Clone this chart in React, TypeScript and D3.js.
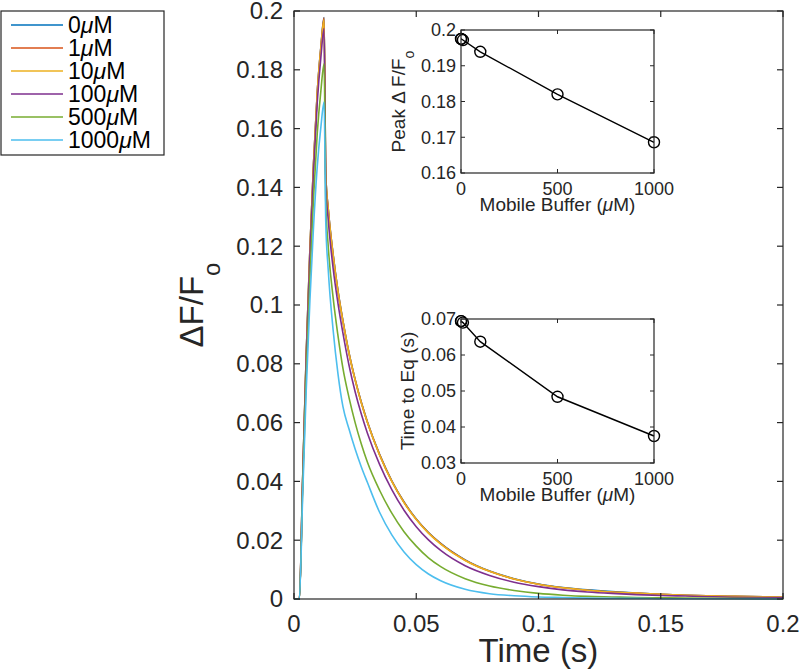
import React from "react";
import * as d3 from "d3";

// ---------- data ----------
const TIME = [0, 0.0022, 0.0035, 0.005, 0.0065, 0.008, 0.0095, 0.011, 0.0123, 0.013, 0.014, 0.016, 0.018, 0.02, 0.0225, 0.025, 0.0275, 0.03, 0.035, 0.04, 0.045, 0.05, 0.055, 0.06, 0.07, 0.08, 0.09, 0.1, 0.11, 0.12, 0.13, 0.14, 0.15, 0.16, 0.18, 0.2];

const S0 = [0, 0, 0.0396, 0.0832, 0.1188, 0.1484, 0.1722, 0.1878, 0.1978, 0.1442, 0.1328, 0.1172, 0.1047, 0.0947, 0.0837, 0.0747, 0.067, 0.0603, 0.0492, 0.0402, 0.033, 0.0272, 0.0226, 0.0189, 0.0133, 0.0095, 0.0069, 0.0051, 0.0039, 0.0031, 0.0025, 0.002, 0.0016, 0.0013, 0.0009, 0.0006];
const S1 = [0, 0, 0.0396, 0.0831, 0.1187, 0.1483, 0.1721, 0.1877, 0.1977, 0.1441, 0.1327, 0.1171, 0.1046, 0.0946, 0.0836, 0.0746, 0.0669, 0.0602, 0.0491, 0.0401, 0.0329, 0.0271, 0.0225, 0.0188, 0.0132, 0.0094, 0.0068, 0.005, 0.0038, 0.003, 0.0024, 0.002, 0.0016, 0.0013, 0.0009, 0.0006];
const S10 = [0, 0, 0.0395, 0.083, 0.1185, 0.148, 0.172, 0.1875, 0.197, 0.144, 0.1325, 0.117, 0.1045, 0.0945, 0.0835, 0.0745, 0.0668, 0.0601, 0.049, 0.04, 0.0328, 0.027, 0.0224, 0.0187, 0.0131, 0.0094, 0.0068, 0.005, 0.0038, 0.003, 0.0024, 0.002, 0.0016, 0.0013, 0.0009, 0.0006];
const S100 = [0, 0, 0.0388, 0.0815, 0.1164, 0.1455, 0.1688, 0.1843, 0.194, 0.141, 0.129, 0.1125, 0.1005, 0.0905, 0.0795, 0.0705, 0.063, 0.0565, 0.0458, 0.0372, 0.0302, 0.0246, 0.0201, 0.0165, 0.0113, 0.008, 0.0057, 0.0042, 0.0031, 0.0024, 0.0019, 0.0015, 0.0012, 0.001, 0.0006, 0.0004];
const S500 = [0, 0, 0.0364, 0.0764, 0.1092, 0.1365, 0.1583, 0.1729, 0.182, 0.135, 0.12, 0.1025, 0.0895, 0.0785, 0.0685, 0.06, 0.0528, 0.0466, 0.037, 0.0292, 0.0229, 0.018, 0.014, 0.011, 0.0069, 0.0044, 0.0029, 0.0019, 0.0013, 0.0009, 0.0007, 0.0005, 0.0004, 0.0003, 0.0002, 0.0001];
const S1000 = [0, 0, 0.0338, 0.071, 0.1014, 0.1268, 0.147, 0.1606, 0.169, 0.128, 0.112, 0.0915, 0.0765, 0.0655, 0.0578, 0.051, 0.045, 0.0397, 0.0295, 0.0218, 0.016, 0.0117, 0.0085, 0.0062, 0.0033, 0.0018, 0.0011, 0.0007, 0.0005, 0.0003, 0.0002, 0.0002, 0.0001, 0.0001, 0.0001, 0];

const SERIES_LABELS = ["0", "1", "10", "100", "500", "1000"];
const SERIES_VALUES = [S0, S1, S10, S100, S500, S1000];
const SERIES_COLORS = ["#0072BD", "#D95319", "#EDB120", "#7E2F8E", "#77AC30", "#4DBEEE"];

const X_TICKS = [0, 0.05, 0.1, 0.15, 0.2];
const Y_TICKS = [0, 0.02, 0.04, 0.06, 0.08, 0.1, 0.12, 0.14, 0.16, 0.18, 0.2];

const BUFFER = [0, 1, 10, 100, 500, 1000];
const PEAK = [0.1975, 0.1975, 0.1972, 0.1939, 0.182, 0.1686];
const TIME_EQ = [0.0694, 0.0694, 0.069, 0.0637, 0.0484, 0.0375];

const INSET_X_TICKS = [0, 500, 1000];
const PEAK_TICKS = [0.16, 0.17, 0.18, 0.19, 0.2];
const TEQ_TICKS = [0.03, 0.04, 0.05, 0.06, 0.07];

// ---------- styling ----------
const FONT = "'Liberation Sans', Arial, Helvetica, sans-serif";
const AX = "#262626";

const fmt = (v: number) => (v === 0 ? "0" : String(+v.toFixed(3)));

function Inset({ top, bottom, domain, ticks, values, ylabel, ylabelX }: any) {
  const left = 461, right = 654;
  const ix = d3.scaleLinear().domain([0, 1000]).range([left, right]);
  const iy = d3.scaleLinear().domain(domain).range([bottom, top]);
  const line = d3.line<number>().x((_, i) => ix(BUFFER[i])).y((d) => iy(d));
  const tl = 4;
  return (
    <g>
      <rect x={left} y={top} width={right - left} height={bottom - top} fill="#fff" />
      <path d={line(values) || ""} fill="none" stroke="#000" strokeWidth={1.4} />
      {values.map((v: number, i: number) => (
        <circle key={i} cx={ix(BUFFER[i])} cy={iy(v)} r={5.5} fill="none" stroke="#000" strokeWidth={1.4} />
      ))}
      <rect x={left} y={top} width={right - left} height={bottom - top} fill="none" stroke={AX} strokeWidth={1.2} />
      {INSET_X_TICKS.map((t) => (
        <g key={"x" + t}>
          <line x1={ix(t)} x2={ix(t)} y1={bottom} y2={bottom - tl} stroke={AX} />
          <line x1={ix(t)} x2={ix(t)} y1={top} y2={top + tl} stroke={AX} />
          <text x={ix(t)} y={bottom + 22} textAnchor="middle" fontSize={18} fill={AX} fontFamily={FONT}>{t}</text>
        </g>
      ))}
      {ticks.map((t: number) => (
        <g key={"y" + t}>
          <line x1={left} x2={left + tl} y1={iy(t)} y2={iy(t)} stroke={AX} />
          <line x1={right} x2={right - tl} y1={iy(t)} y2={iy(t)} stroke={AX} />
          <text x={left - 5} y={iy(t)} dy="0.35em" textAnchor="end" fontSize={18} fill={AX} fontFamily={FONT}>{fmt(t)}</text>
        </g>
      ))}
      <text x={(left + right) / 2} y={bottom + 38} textAnchor="middle" fontSize={19} fill={AX} fontFamily={FONT}>
        Mobile Buffer (<tspan fontStyle="italic">μ</tspan>M)
      </text>
      <text transform={`translate(${ylabelX},${(top + bottom) / 2}) rotate(-90)`} textAnchor="middle" fontSize={19} fill={AX} fontFamily={FONT}>
        {ylabel}
      </text>
    </g>
  );
}

export default function App() {
  const L = 294, R = 783, T = 11, B = 599;
  const x = d3.scaleLinear().domain([0, 0.2]).range([L, R]);
  const y = d3.scaleLinear().domain([0, 0.2]).range([B, T]);
  const line = d3
    .line<number>()
    .x((_, i) => x(TIME[i]))
    .y((d) => y(d))
    .curve(d3.curveMonotoneX);
  const tl = 6;

  return (
    <svg width={800} height={669} style={{ position: "absolute", left: 0, top: 0, background: "#fff" }} fontFamily={FONT}>
      <rect x={0} y={0} width={800} height={669} fill="#fff" />
      <defs>
        <clipPath id="plotclip">
          <rect x={L} y={T - 2} width={R - L} height={B - T + 4} />
        </clipPath>
      </defs>
      <g clipPath="url(#plotclip)">
        {SERIES_VALUES.map((vals, k) => (
          <path key={k} d={line(vals) || ""} fill="none" stroke={SERIES_COLORS[k]} strokeWidth={1.6} />
        ))}
      </g>
      <rect x={L} y={T} width={R - L} height={B - T} fill="none" stroke={AX} strokeWidth={1.2} />
      {X_TICKS.map((t) => (
        <g key={"x" + t}>
          <line x1={x(t)} x2={x(t)} y1={B} y2={B - tl} stroke={AX} strokeWidth={1.2} />
          <line x1={x(t)} x2={x(t)} y1={T} y2={T + tl} stroke={AX} strokeWidth={1.2} />
          <text x={x(t)} y={632} textAnchor="middle" fontSize={24} fill={AX}>{fmt(t)}</text>
        </g>
      ))}
      {Y_TICKS.map((t) => (
        <g key={"y" + t}>
          <line x1={L} x2={L + tl} y1={y(t)} y2={y(t)} stroke={AX} strokeWidth={1.2} />
          <line x1={R} x2={R - tl} y1={y(t)} y2={y(t)} stroke={AX} strokeWidth={1.2} />
          <text x={283} y={y(t)} dy="0.35em" textAnchor="end" fontSize={24} fill={AX}>{fmt(t)}</text>
        </g>
      ))}
      <text x={(L + R) / 2} y={662} textAnchor="middle" fontSize={33} fill={AX}>Time (s)</text>
      <text transform={`translate(203,${(T + B) / 2}) rotate(-90)`} textAnchor="middle" fontSize={33} fill={AX}>
        ΔF/F<tspan dy={17} fontSize={24}>o</tspan>
      </text>

      <Inset top={30} bottom={173} domain={[0.16, 0.2]} ticks={PEAK_TICKS} values={PEAK} ylabelX={405}
        ylabel={<>Peak Δ F/F<tspan dy={9} fontSize={14}>o</tspan></>} />
      <Inset top={319} bottom={463} domain={[0.03, 0.07]} ticks={TEQ_TICKS} values={TIME_EQ} ylabelX={414}
        ylabel={"Time to Eq (s)"} />

      {/* legend */}
      <rect x={1} y={11} width={163} height={144} fill="#fff" stroke={AX} strokeWidth={1.2} />
      {SERIES_LABELS.map((lab, k) => {
        const cy = 25 + k * 23;
        return (
          <g key={lab}>
            <line x1={11} x2={63} y1={cy} y2={cy} stroke={SERIES_COLORS[k]} strokeWidth={1.6} />
            <text x={68} y={cy + 8} fontSize={23} fill="#000">
              {lab}<tspan fontStyle="italic">μ</tspan>M
            </text>
          </g>
        );
      })}
    </svg>
  );
}
